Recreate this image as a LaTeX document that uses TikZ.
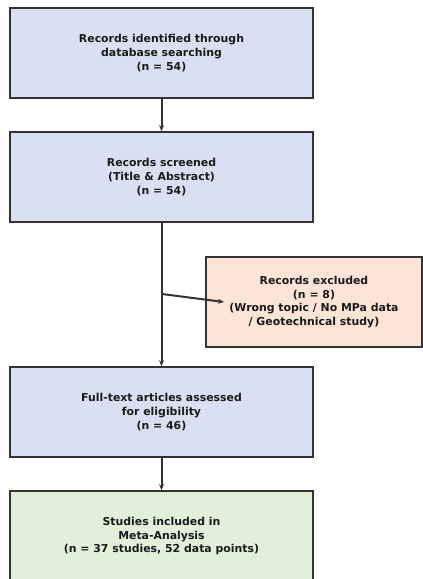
\documentclass[tikz,border=0pt]{standalone}
\usepackage{fontspec}
\setmainfont{DejaVu Sans}
\usetikzlibrary{arrows.meta}
\definecolor{bluefill}{HTML}{DAE0F2}
\definecolor{redfill}{HTML}{FCE4D6}
\definecolor{greenfill}{HTML}{E2EFDA}
\definecolor{edgecol}{HTML}{333333}
\definecolor{textcol}{HTML}{1A1A1A}
\tikzset{
  flowbox/.style={draw=edgecol, line width=1.6pt, rectangle, inner sep=0pt,
    minimum width=303pt, minimum height=90pt, align=center, text=textcol,
    font=\bfseries\fontsize{10.9}{13.8}\selectfont},
  conn/.style={draw=edgecol, line width=2pt, -{Stealth[length=6pt,width=5pt]}}
}
\begin{document}
\begin{tikzpicture}[x=1pt,y=-1pt]
\useasboundingbox (0,0) rectangle (423,579);
\node[flowbox, fill=bluefill] (b1) at (161.5,53) {Records identified through\\database searching\\(n = 54)};
\node[flowbox, fill=bluefill] (b2) at (161.5,177) {Records screened\\(Title \& Abstract)\\(n = 54)};
\node[flowbox, fill=redfill, minimum width=216pt] (ex) at (314,302) {Records excluded\\(n = 8)\\(Wrong topic / No MPa data\\/ Geotechnical study)};
\node[flowbox, fill=bluefill] (b3) at (161.5,412) {Full-text articles assessed\\for eligibility\\(n = 46)};
\node[flowbox, fill=greenfill] (b4) at (161.5,536) {Studies included in\\Meta-Analysis\\(n = 37 studies, 52 data points)};
\coordinate (split) at (162,294);
\coordinate (extip) at (224,302);
\draw[conn] (b1) -- (b2);
\draw[conn] (b2) -- (b3);
\draw[conn] (split) -- (extip);
\draw[conn] (b3) -- (b4);
\end{tikzpicture}
\end{document}
